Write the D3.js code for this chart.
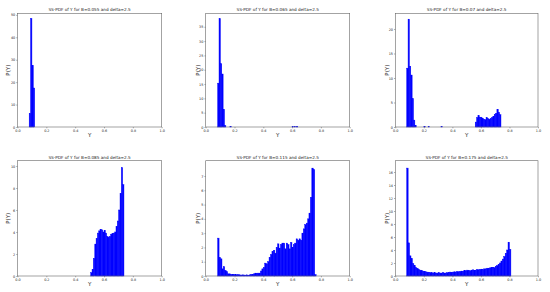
<!DOCTYPE html>
<html><head><meta charset="utf-8">
<script src="https://cdn.jsdelivr.net/npm/d3@7"></script>
<style>html,body{margin:0;padding:0;background:#fff;}svg{display:block;}</style>
</head><body>
<svg id="chart" width="550" height="292"></svg>
<script>
// ---- data (histogram densities) ----
const titles = [
  "SS-PDF of Y for B=0.055 and delta=2.5",
  "SS-PDF of Y for B=0.065 and delta=2.5",
  "SS-PDF of Y for B=0.07 and delta=2.5",
  "SS-PDF of Y for B=0.085 and delta=2.5",
  "SS-PDF of Y for B=0.115 and delta=2.5",
  "SS-PDF of Y for B=0.175 and delta=2.5"
];
const xTicks = [0.0, 0.2, 0.4, 0.6, 0.8, 1.0];
const yTicks1 = [0, 10, 20, 30, 40, 50];
const yTicks2 = [0, 5, 10, 15, 20, 25, 30, 35];
const yTicks3 = [0, 5, 10, 15, 20];
const yTicks4 = [0, 2, 4, 6, 8, 10];
const yTicks5 = [0, 1, 2, 3, 4, 5, 6, 7];
const yTicks6 = [0, 2, 4, 6, 8, 10, 12, 14, 16];
const yMax = [50.7, 39.7, 23.2, 10.48, 8.07, 17.74];
const binWidth = [0.0095, 0.0095, 0.0095, 0.0092, 0.0099, 0.0100];

// each bin: [left edge, density]
const bins1 = [[0.081,6.1],[0.0905,48.4],[0.100,27.5],[0.1095,17.4]];
const bins2 = [[0.083,15.3],[0.0925,37.8],[0.102,22.1],[0.1115,18.5],[0.121,6.2],[0.1305,0.5],
  [0.168,0.15],[0.600,0.12],[0.615,0.15],[0.630,0.1]];
const bins3 = [[0.080,12.0],[0.0895,22.0],[0.099,12.4],[0.1085,10.6],[0.118,5.8],[0.1275,1.4],[0.137,0.3],
  [0.200,0.08],[0.230,0.06],[0.320,0.06],
  [0.560,1.0],[0.5695,1.9],[0.579,2.3],[0.5885,2.0],[0.598,2.0],[0.6075,1.8],[0.617,1.5],[0.6265,1.5],
  [0.636,1.9],[0.6455,1.7],[0.655,1.6],[0.6645,1.7],[0.674,1.9],[0.6835,2.2],[0.693,2.6],[0.7025,2.8],
  [0.712,3.6],[0.7215,3.0],[0.731,2.5]];
const bins4 = [[0.508,0.3],[0.517,0.6],[0.526,1.6],[0.536,2.9],[0.545,3.4],[0.554,3.9],[0.563,4.1],
  [0.572,4.25],[0.582,4.2],[0.591,4.0],[0.600,4.15],[0.609,3.9],[0.619,3.6],[0.628,3.5],[0.637,3.6],
  [0.646,3.8],[0.655,3.85],[0.665,3.9],[0.674,4.0],[0.683,4.5],[0.692,5.0],[0.701,6.0],[0.711,7.5],
  [0.720,9.85],[0.729,8.3]];
const bins5 = [[0.083,2.65],[0.093,1.3],[0.103,1.2],[0.113,0.5],[0.122,0.65],[0.132,0.4],[0.142,0.3],
  [0.152,0.15],[0.162,0.15],[0.172,0.1],[0.182,0.12],[0.192,0.1],[0.202,0.1],[0.212,0.08],[0.222,0.1],
  [0.232,0.08],[0.241,0.06],[0.251,0.08],[0.261,0.07],[0.271,0.06],[0.281,0.08],[0.291,0.05],[0.301,0.08],
  [0.311,0.1],[0.321,0.12],[0.331,0.15],[0.341,0.2],[0.351,0.18],[0.360,0.2],[0.370,0.2],[0.380,0.35],
  [0.390,0.5],[0.400,0.6],[0.410,0.9],[0.420,0.85],[0.430,1.0],[0.440,1.3],[0.450,1.5],[0.460,1.7],
  [0.470,1.8],[0.479,1.6],[0.489,2.0],[0.499,2.25],[0.509,1.95],[0.519,2.2],[0.529,2.3],[0.539,2.3],
  [0.549,1.9],[0.559,2.3],[0.569,2.2],[0.579,1.9],[0.589,2.35],[0.598,2.0],[0.608,2.2],[0.618,2.3],
  [0.628,2.6],[0.638,2.5],[0.648,2.6],[0.658,2.5],[0.668,3.0],[0.678,3.3],[0.688,3.6],[0.698,3.7],
  [0.708,4.0],[0.717,4.4],[0.727,5.5],[0.737,7.55],[0.747,7.45],[0.757,0.1]];
const bins6 = [[0.080,16.6],[0.090,5.1],[0.100,3.1],[0.110,2.7],[0.120,1.9],[0.130,1.6],[0.140,1.3],
  [0.150,1.2],[0.160,1.0],[0.170,0.9],[0.180,0.85],[0.190,0.75],[0.200,0.7],[0.210,0.65],[0.220,0.6],
  [0.230,0.55],[0.240,0.5],[0.250,0.5],[0.260,0.45],[0.270,0.5],[0.280,0.45],[0.290,0.45],[0.300,0.5],
  [0.310,0.45],[0.320,0.45],[0.330,0.5],[0.340,0.45],[0.350,0.45],[0.360,0.5],[0.370,0.55],[0.380,0.6],
  [0.390,0.55],[0.400,0.6],[0.410,0.65],[0.420,0.6],[0.430,0.7],[0.440,0.65],[0.450,0.7],[0.460,0.75],
  [0.470,0.7],[0.480,0.85],[0.490,0.8],[0.500,0.9],[0.510,0.85],[0.520,0.8],[0.530,0.9],[0.540,0.95],
  [0.550,0.85],[0.560,0.9],[0.570,1.0],[0.580,0.95],[0.590,1.0],[0.600,1.05],[0.610,1.0],[0.620,1.1],
  [0.630,1.1],[0.640,1.2],[0.650,1.2],[0.660,1.25],[0.670,1.3],[0.680,1.35],[0.690,1.3],[0.700,1.5],
  [0.710,1.6],[0.720,1.8],[0.730,2.0],[0.740,2.3],[0.750,2.6],[0.760,3.0],[0.770,3.5],[0.780,4.0],
  [0.790,5.2],[0.800,4.1]];

const allBins = [bins1, bins2, bins3, bins4, bins5, bins6];
const allYTicks = [yTicks1, yTicks2, yTicks3, yTicks4, yTicks5, yTicks6];

// ---- layout ----
const cols = [[17.5, 161.7], [205.7, 349.7], [395.3, 538]];
const rows = [[13.3, 127], [160.7, 276]];
const ylabelX = [10, 199.5, 389];

const svg = d3.select("#chart");
const font = "DejaVu Sans, sans-serif";

allBins.forEach((bins, i) => {
  const c = cols[i % 3], r = rows[Math.floor(i / 3)];
  const x = d3.scaleLinear().domain([0, 1]).range(c);
  const y = d3.scaleLinear().domain([0, yMax[i]]).range([r[1], r[0]]);
  const g = svg.append("g");

  // bars
  g.selectAll("rect.bar").data(bins).enter().append("rect")
    .attr("x", d => x(d[0]))
    .attr("width", d => x(d[0] + binWidth[i]) - x(d[0]))
    .attr("y", d => y(d[1]))
    .attr("height", d => y(0) - y(d[1]))
    .attr("fill", "#0000ff")
    .attr("stroke", "#0000ff").attr("stroke-width", 0.45);

  // axes
  const xa = g.append("g").attr("transform", `translate(0,${r[1]})`)
    .call(d3.axisBottom(x).tickValues(xTicks).tickFormat(d3.format(".1f")).tickSize(1.3).tickPadding(1));
  const ya = g.append("g").attr("transform", `translate(${c[0]},0)`)
    .call(d3.axisLeft(y).tickValues(allYTicks[i]).tickFormat(d3.format("d")).tickSize(1.3).tickPadding(1));
  [xa, ya].forEach(a => {
    a.select(".domain").remove();
    a.selectAll(".tick line").attr("stroke", "#333").attr("stroke-width", 0.4);
    a.selectAll(".tick text").attr("font-family", font).attr("font-size", 3.4).attr("fill", "#222");
  });

  // frame
  g.append("rect").attr("x", c[0]).attr("y", r[0])
    .attr("width", c[1] - c[0]).attr("height", r[1] - r[0])
    .attr("fill", "none").attr("stroke", "#666").attr("stroke-width", 0.6);

  // title
  g.append("text").attr("x", (c[0] + c[1]) / 2).attr("y", r[0] - 2)
    .attr("text-anchor", "middle").attr("font-family", font).attr("font-size", 4.2)
    .attr("fill", "#222").text(titles[i]);

  // axis labels
  g.append("text").attr("x", (c[0] + c[1]) / 2).attr("y", r[1] + 9.5)
    .attr("text-anchor", "middle").attr("font-family", font).attr("font-size", 5.5)
    .attr("fill", "#222").text("Y");
  const cy = (r[0] + r[1]) / 2;
  g.append("text")
    .attr("x", -cy).attr("y", ylabelX[i % 3]).attr("transform", "rotate(-90)")
    .attr("text-anchor", "middle").attr("font-family", font).attr("font-size", 5.5)
    .attr("fill", "#222").text("P(Y)");
});
</script>
</body></html>
